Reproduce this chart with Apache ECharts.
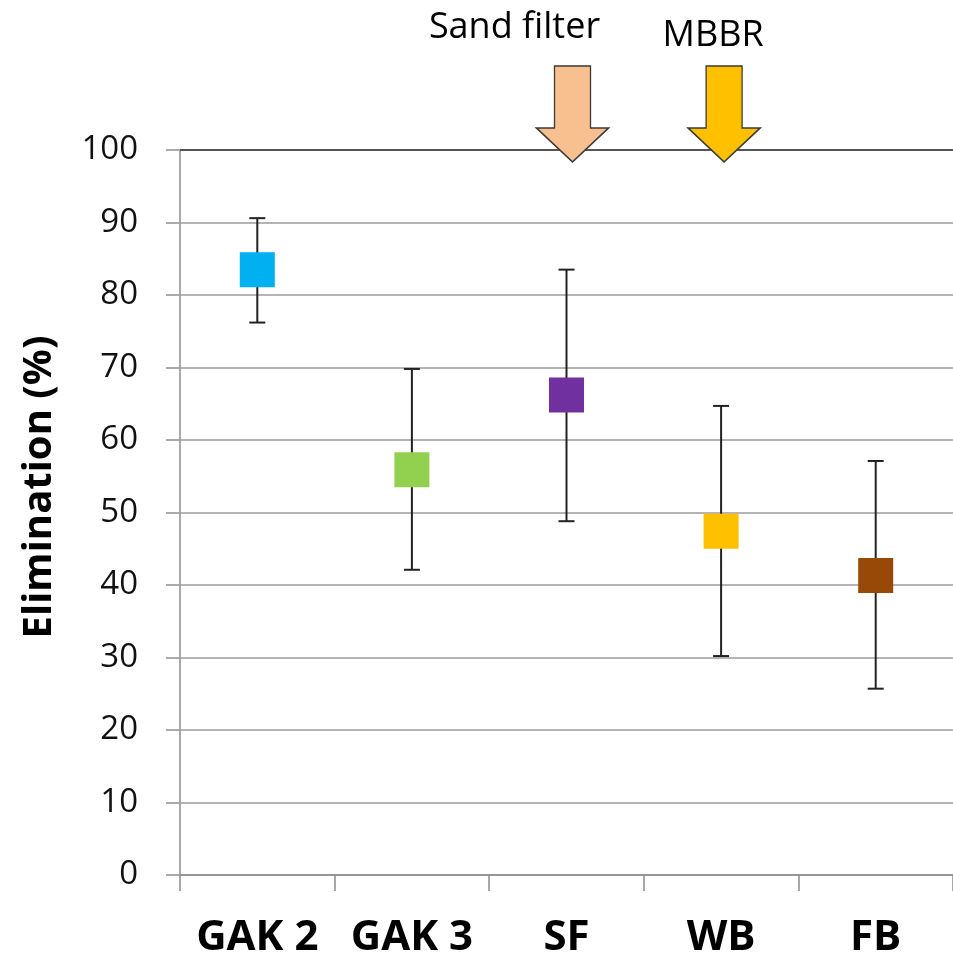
<!DOCTYPE html>
<html>
<head>
<meta charset="utf-8">
<script src="https://cdn.jsdelivr.net/npm/echarts@6/dist/echarts.min.js"></script>
<style>
  html, body { margin: 0; padding: 0; background: #fff; }
  #chart { width: 953px; height: 959px; }
</style>
</head>
<body>
<div id="chart"></div>
<script>
var categories = ['GAK 2', 'GAK 3', 'SF', 'WB', 'FB'];
var means = [83.5, 55.9, 66.2, 47.4, 41.3];
var lows = [76.2, 42.1, 48.8, 30.2, 25.7];
var highs = [90.6, 69.8, 83.5, 64.7, 57.1];
var colors = ['#00B0F0', '#92D050', '#7030A0', '#FFC000', '#984807'];
var yTicks = [0, 10, 20, 30, 40, 50, 60, 70, 80, 90, 100];
// arrows above the plot
var arrowCats = ['SF', 'WB'];
var arrowLabels = ['Sand filter', 'MBBR'];
var arrowColors = ['#F9C08F', '#FFC000'];

var chart = echarts.init(document.getElementById('chart'));

var arrowPath = 'path://M17,0 L53,0 L53,62 L71,62 L35,96 L-1,62 L17,62 Z';

var option = {
    animation: false,
    textStyle: { fontFamily: 'Open Sans' },
    grid: { left: 180, right: 0, top: 150, bottom: 78 },
    graphic: [{
        type: 'text',
        x: 40,
        y: 487,
        rotation: Math.PI / 2,
        style: {
            text: 'Elimination (%)',
            fill: '#000',
            fontSize: 40,
            fontWeight: 'bold',
            fontFamily: 'Open Sans',
            align: 'center',
            verticalAlign: 'middle'
        }
    }],
    xAxis: [{
        type: 'category',
        data: categories,
        boundaryGap: true,
        axisLine: { lineStyle: { color: '#8c8c8c', width: 1.5 } },
        axisTick: { show: true, interval: 0, length: 16, lineStyle: { color: '#8c8c8c', width: 1.5 } },
        axisLabel: { interval: 0, color: '#000', fontSize: 42, fontWeight: 'bold', margin: 42, fontFamily: 'Open Sans' }
    }, {
        type: 'category',
        data: categories,
        position: 'top',
        axisLine: { lineStyle: { color: '#555', width: 2 } },
        axisTick: { show: false },
        axisLabel: { show: false }
    }],
    yAxis: {
        type: 'value',
        min: yTicks[0],
        max: yTicks[yTicks.length - 1],
        interval: 10,
        axisLine: { show: true, lineStyle: { color: '#8c8c8c', width: 1.5 } },
        axisTick: { show: true, length: 14, lineStyle: { color: '#aaa', width: 2 } },
        axisLabel: { color: '#111', fontSize: 33, margin: 42 },
        splitLine: { lineStyle: { color: '#b4b4b4', width: 2 } }
    },
    series: [{
        type: 'custom',
        renderItem: function (params, api) {
            var x = api.coord([api.value(0), api.value(1)])[0];
            var yLo = api.coord([api.value(0), api.value(1)])[1];
            var yHi = api.coord([api.value(0), api.value(2)])[1];
            var cap = 8;
            var st = { stroke: '#222', lineWidth: 2 };
            return {
                type: 'group',
                children: [
                    { type: 'line', shape: { x1: x, y1: yLo, x2: x, y2: yHi }, style: st },
                    { type: 'line', shape: { x1: x - cap, y1: yLo, x2: x + cap, y2: yLo }, style: st },
                    { type: 'line', shape: { x1: x - cap, y1: yHi, x2: x + cap, y2: yHi }, style: st }
                ]
            };
        },
        data: categories.map(function (c, i) { return [i, lows[i], highs[i]]; }),
        z: 2
    }, {
        type: 'scatter',
        symbol: 'rect',
        symbolSize: 35,
        itemStyle: { opacity: 1 },
        data: means.map(function (v, i) {
            return { value: [i, v], itemStyle: { color: colors[i], opacity: 1 } };
        }),
        z: 3,
        markPoint: {
            symbol: arrowPath,
            symbolSize: [72, 96],
            symbolKeepAspect: false,
            data: arrowCats.map(function (c, i) {
                return {
                    coord: [c, 100],
                    symbolOffset: i === 0 ? [6, -36] : [3, -36],
                    itemStyle: { color: arrowColors[i], borderColor: '#3a3a3a', borderWidth: 1.5, opacity: 1 },
                    label: {
                        show: true,
                        formatter: arrowLabels[i],
                        position: 'top',
                        distance: i === 0 ? 19 : 11,
                        offset: i === 0 ? [-58, 0] : [-11, 0],
                        color: '#000',
                        fontSize: 36,
                        fontFamily: 'Open Sans'
                    }
                };
            })
        }
    }]
};

chart.setOption(option);
</script>
</body>
</html>
